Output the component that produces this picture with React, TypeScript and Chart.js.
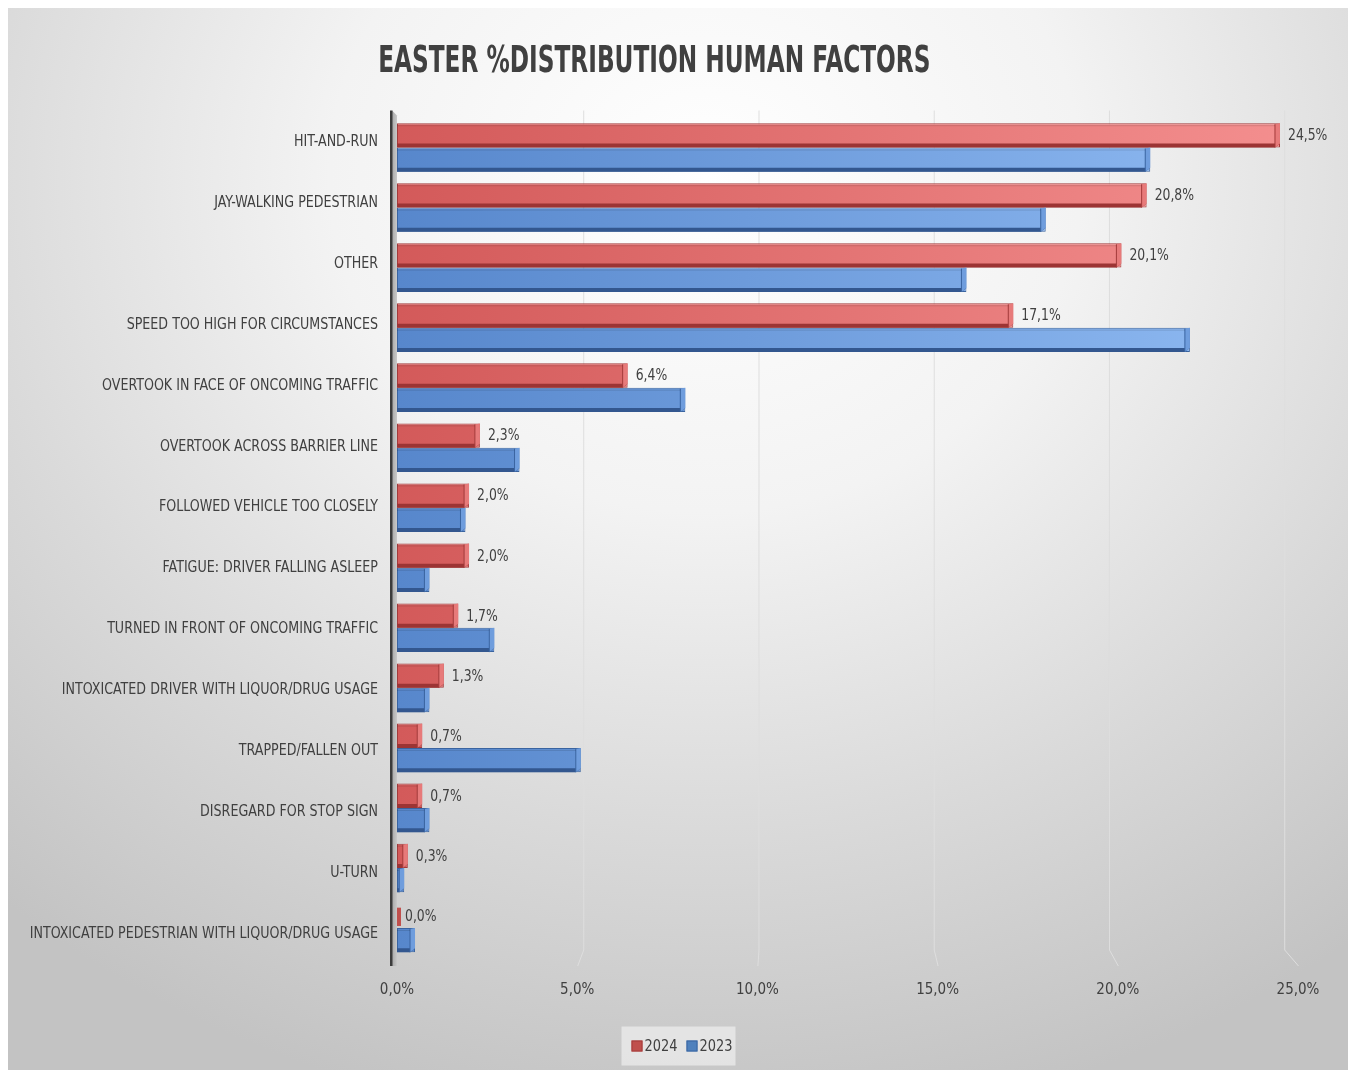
import React, { useEffect, useRef } from "react";
import { Chart, registerables } from "chart.js";

Chart.register(...registerables);

const categories = [
  "HIT-AND-RUN",
  "JAY-WALKING PEDESTRIAN",
  "OTHER",
  "SPEED TOO HIGH FOR CIRCUMSTANCES",
  "OVERTOOK IN FACE OF ONCOMING TRAFFIC",
  "OVERTOOK ACROSS BARRIER LINE",
  "FOLLOWED VEHICLE TOO CLOSELY",
  "FATIGUE: DRIVER FALLING ASLEEP",
  "TURNED IN FRONT OF ONCOMING TRAFFIC",
  "INTOXICATED DRIVER WITH LIQUOR/DRUG USAGE",
  "TRAPPED/FALLEN OUT",
  "DISREGARD FOR STOP SIGN",
  "U-TURN",
  "INTOXICATED PEDESTRIAN WITH LIQUOR/DRUG USAGE",
];

const values2024 = [24.5, 20.8, 20.1, 17.1, 6.4, 2.3, 2.0, 2.0, 1.7, 1.3, 0.7, 0.7, 0.3, 0.0];
const values2023 = [20.9, 18.0, 15.8, 22.0, 8.0, 3.4, 1.9, 0.9, 2.7, 0.9, 5.1, 0.9, 0.2, 0.5];

const seriesLabels = ["2024", "2023"];
const xTickValues = [0, 5, 10, 15, 20, 25];
const chartTitle = "EASTER %DISTRIBUTION HUMAN FACTORS";

const FONT = "'DejaVu Sans Condensed', 'DejaVu Sans', sans-serif";
const TEXT = "#404040";

const fmt = (v: number) => v.toFixed(1).replace(".", ",") + "%";

const palettes = [
  { left: "#d35a5a", right: "#f48f8f", dark: "#9c3434", side: "#e77a7a", border: "#a33b3b", legend: "#c0504d" },
  { left: "#5787cc", right: "#90bbf3", dark: "#33578f", side: "#6f9ddd", border: "#3a64a0", legend: "#4f81bd" },
];

const gradFill = (idx: number) => (ctx: any) => {
  const chart = ctx.chart;
  const ca = chart.chartArea;
  const p = palettes[idx];
  if (!ca) return p.left;
  const g = chart.ctx.createLinearGradient(ca.left, 0, ca.right, 0);
  g.addColorStop(0, p.left);
  g.addColorStop(1, p.right);
  return g;
};

function drawText(
  c: CanvasRenderingContext2D,
  text: string,
  x: number,
  y: number,
  font: string,
  align: CanvasTextAlign,
  sx: number,
  color = TEXT
) {
  c.save();
  c.translate(x, y);
  c.scale(sx, 1);
  c.font = font;
  c.fillStyle = color;
  c.textAlign = align;
  c.textBaseline = "middle";
  c.fillText(text, 0, 0);
  c.restore();
}

const decorPlugin = {
  id: "decor",
  beforeDatasetsDraw(chart: any) {
    const c = chart.ctx;
    const ca = chart.chartArea;
    const xs = chart.scales.x;
    const x0 = xs.getPixelForValue(0);
    c.save();
    c.strokeStyle = "#dedede";
    c.lineWidth = 1;
    xTickValues.forEach((v) => {
      if (v === 0) return;
      const xf = xs.getPixelForValue(v);
      const xb = x0 + 11 + (xf - x0) * 0.9725;
      c.beginPath();
      c.moveTo(xb + 0.5, ca.top - 7);
      c.lineTo(xb + 0.5, ca.bottom - 8);
      c.lineTo(xf + 0.5, ca.bottom + 8);
      c.stroke();
    });
    const g = c.createLinearGradient(x0 - 5, 0, x0, 0);
    g.addColorStop(0, "#a9a9a9");
    g.addColorStop(1, "#c9c9c9");
    c.fillStyle = g;
    c.beginPath();
    c.moveTo(x0 - 5, ca.top - 7);
    c.lineTo(x0, ca.top - 2);
    c.lineTo(x0, ca.bottom + 8);
    c.lineTo(x0 - 5, ca.bottom + 8);
    c.closePath();
    c.fill();
    c.fillStyle = "#3c3c3c";
    c.fillRect(x0 - 7, ca.top - 7, 2.5, ca.bottom - ca.top + 15);
    c.restore();
  },
  afterDatasetsDraw(chart: any) {
    const c = chart.ctx;
    c.save();
    chart.data.datasets.forEach((ds: any, di: number) => {
      const meta = chart.getDatasetMeta(di);
      const p = palettes[di];
      meta.data.forEach((el: any, i: number) => {
        const x = el.x;
        const base = el.base;
        const h = el.height;
        const top = el.y - h / 2;
        const bottom = el.y + h / 2;
        const d = Math.min(5, Math.max(0, x - base));
        if (x - base > 0.5) {
          c.fillStyle = p.dark;
          c.beginPath();
          c.moveTo(base, bottom - 4);
          c.lineTo(x, bottom - 4);
          c.lineTo(x - d, bottom);
          c.lineTo(base, bottom);
          c.closePath();
          c.fill();
          c.fillStyle = p.side;
          c.beginPath();
          c.moveTo(x - d, top + 1);
          c.lineTo(x, top);
          c.lineTo(x, bottom - 4);
          c.lineTo(x - d, bottom);
          c.closePath();
          c.fill();
          c.strokeStyle = p.border;
          c.lineWidth = 1;
          c.beginPath();
          c.moveTo(x - d, top + 1);
          c.lineTo(x - d, bottom);
          c.stroke();
          c.beginPath();
          c.moveTo(base, top + 2.5);
          c.lineTo(x - d, top + 2.5);
          c.strokeStyle = "rgba(0,0,0,0.12)";
          c.stroke();
        } else {
          c.fillStyle = p.legend;
          c.fillRect(base, top + 4, 4, h - 6);
        }
        if (di === 0) {
          drawText(c, fmt(ds.data[i]), x + 8, el.y + 1, `15px ${FONT}`, "left", 0.92);
        }
      });
    });
    c.restore();
  },
  afterDraw(chart: any) {
    const c = chart.ctx;
    const ca = chart.chartArea;
    const ys = chart.scales.y;
    drawText(c, chartTitle, chart.width * 0.482, 55, `bold 38px ${FONT}`, "center", 0.68);
    const mid = (ca.top + ca.bottom) / 2;
    categories.forEach((lab, i) => {
      const yc = ys.getPixelForValue(i);
      const y = yc + (yc - mid) * 0.0141;
      drawText(c, lab, ca.left - 19, y, `16px ${FONT}`, "right", 0.88);
    });
    const cx = chart.width / 2;
    const cy = chart.height - 24;
    c.save();
    c.fillStyle = "rgba(236,236,236,0.75)";
    c.fillRect(cx - 57, cy - 19.5, 114, 39);
    seriesLabels.forEach((lab, i) => {
      const bx = i === 0 ? cx - 47 : cx + 8;
      c.fillStyle = palettes[i].legend;
      c.fillRect(bx, cy - 5.5, 11, 11);
      c.strokeStyle = palettes[i].border;
      c.lineWidth = 1;
      c.strokeRect(bx + 0.5, cy - 5, 10, 10);
      drawText(c, lab, bx + 13, cy + 1, `16px ${FONT}`, "left", 0.9);
    });
    c.restore();
  },
};

export default function App() {
  const ref = useRef<HTMLCanvasElement | null>(null);

  useEffect(() => {
    if (!ref.current) return;
    const chart = new Chart(ref.current, {
      type: "bar",
      data: {
        labels: categories,
        datasets: [
          {
            label: seriesLabels[0],
            data: values2024,
            backgroundColor: gradFill(0),
            borderColor: palettes[0].border,
            borderWidth: 1,
            borderSkipped: false,
            categoryPercentage: 0.81,
            barPercentage: 1.0,
          },
          {
            label: seriesLabels[1],
            data: values2023,
            backgroundColor: gradFill(1),
            borderColor: palettes[1].border,
            borderWidth: 1,
            borderSkipped: false,
            categoryPercentage: 0.81,
            barPercentage: 1.0,
          },
        ],
      },
      options: {
        indexAxis: "y",
        animation: false,
        responsive: false,
        devicePixelRatio: 1,
        layout: { padding: { left: 0, right: 52, top: 110.5, bottom: 42 } },
        plugins: {
          title: { display: false },
          legend: { display: false },
          tooltip: { enabled: false },
        },
        scales: {
          x: {
            type: "linear",
            min: 0,
            max: 25,
            afterBuildTicks: (s: any) => {
              s.ticks = xTickValues.map((v) => ({ value: v }));
            },
            afterFit: (s: any) => {
              s.height = 70;
            },
            grid: { display: false, drawTicks: false },
            border: { display: false },
            ticks: {
              color: TEXT,
              font: { family: FONT, size: 15 },
              padding: 23,
              callback: (v: any) => fmt(Number(v)),
            },
          },
          y: {
            type: "category",
            afterFit: (s: any) => {
              s.width = 390;
            },
            grid: { display: false, drawTicks: false },
            border: { display: false },
            ticks: { display: false },
          },
        },
      },
      plugins: [decorPlugin],
    });
    return () => chart.destroy();
  }, []);

  return (
    <div
      style={{
        position: "relative",
        marginLeft: -1,
        marginTop: -1,
        width: 1343,
        height: 1063,
        background:
          "radial-gradient(ellipse 80% 90% at 52% 16%, #ffffff 0%, #f3f3f3 35%, #dadada 68%, #c3c3c3 100%)",
        boxShadow: "inset 0 1px 0 #bdbdbd, inset 1px 0 0 #d0d0d0",
      }}
    >
      <canvas ref={ref} width={1343} height={1063} style={{ display: "block" }} />
    </div>
  );
}
